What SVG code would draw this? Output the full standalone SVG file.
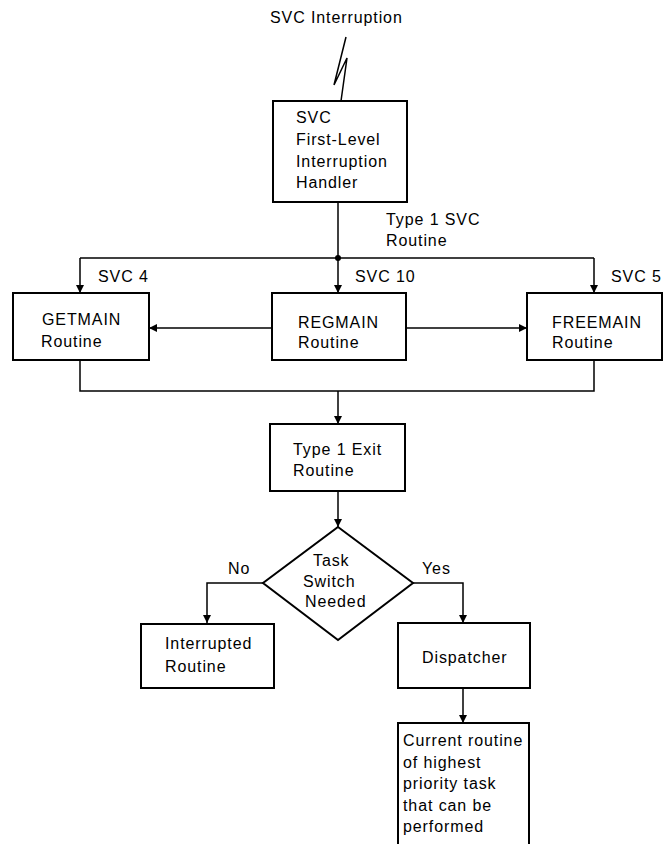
<svg xmlns="http://www.w3.org/2000/svg" width="666" height="844" viewBox="0 0 666 844">
<defs>
<marker id="ah" viewBox="0 0 10 10" refX="10" refY="5" markerWidth="9" markerHeight="8" markerUnits="userSpaceOnUse" orient="auto">
<path d="M0,0 L10,5 L0,10 z" fill="#000"/>
</marker>
<style>
text{font-family:"Liberation Sans",Arial,sans-serif;font-size:16px;letter-spacing:0.9px;fill:#000}
.box{fill:#fff;stroke:#000;stroke-width:2}
.c{fill:none;stroke:#000;stroke-width:1.5}
.a{fill:none;stroke:#000;stroke-width:1.5;marker-end:url(#ah)}
</style>
</defs>
<rect width="666" height="844" fill="#fff"/>
<text x="270" y="23">SVC Interruption</text>
<g id="connectors">
<polyline class="c" points="346,37 334,85 347,58 341,101"/>
<line class="c" x1="338" y1="202" x2="338" y2="258"/>
<polyline class="c" points="80,258 594,258"/>
<line class="a" x1="80" y1="258" x2="80" y2="293"/>
<line class="a" x1="338" y1="258" x2="338" y2="293"/>
<line class="a" x1="594" y1="258" x2="594" y2="293"/>
<circle cx="338" cy="258" r="3" fill="#000"/>
<line class="a" x1="272" y1="328" x2="149" y2="328"/>
<line class="a" x1="406" y1="328" x2="527" y2="328"/>
<polyline class="c" points="80,360 80,391 594,391 594,360"/>
<line class="a" x1="338" y1="391" x2="338" y2="424"/>
<line class="a" x1="338" y1="491" x2="338" y2="527"/>
<polyline class="a" points="263,583 207,583 207,623"/>
<polyline class="a" points="413,583 463,583 463,623"/>
<line class="a" x1="463" y1="688" x2="463" y2="723"/>
<text x="386" y="225">Type 1 SVC</text>
<text x="386" y="246">Routine</text>
<text x="98" y="282">SVC 4</text>
<text x="355" y="282">SVC 10</text>
<text x="611" y="282">SVC 5</text>
<text x="228" y="574">No</text>
<text x="422" y="574">Yes</text>
</g>
<g id="flih">
<rect class="box" x="273" y="101" width="134" height="101"/>
<text x="296" y="123">SVC</text>
<text x="296" y="145">First-Level</text>
<text x="296" y="167">Interruption</text>
<text x="296" y="188">Handler</text>
</g>
<g id="getmain">
<rect class="box" x="13" y="293" width="136" height="67"/>
<text x="42" y="325">GETMAIN</text>
<text x="41" y="347">Routine</text>
</g>
<g id="regmain">
<rect class="box" x="272" y="293" width="134" height="67"/>
<text x="298" y="328">REGMAIN</text>
<text x="298" y="348">Routine</text>
</g>
<g id="freemain">
<rect class="box" x="527" y="293" width="135" height="67"/>
<text x="552" y="328">FREEMAIN</text>
<text x="552" y="348">Routine</text>
</g>
<g id="exit">
<rect class="box" x="270" y="424" width="135" height="67"/>
<text x="293" y="455">Type 1 Exit</text>
<text x="293" y="476">Routine</text>
</g>
<g id="decision">
<polygon class="box" points="338,527 413,583 338,640 263,583"/>
<text x="313" y="566">Task</text>
<text x="303" y="587">Switch</text>
<text x="305" y="607">Needed</text>
</g>
<g id="interrupted">
<rect class="box" x="141" y="624" width="133" height="64"/>
<text x="165" y="649">Interrupted</text>
<text x="165" y="672">Routine</text>
</g>
<g id="dispatcher">
<rect class="box" x="398" y="623" width="132" height="65"/>
<text x="422" y="663">Dispatcher</text>
</g>
<g id="current">
<rect class="box" x="398" y="723" width="131" height="130"/>
<text x="403" y="746">Current routine</text>
<text x="403" y="768">of highest</text>
<text x="403" y="789">priority task</text>
<text x="403" y="811">that can be</text>
<text x="403" y="832">performed</text>
</g>
</svg>
